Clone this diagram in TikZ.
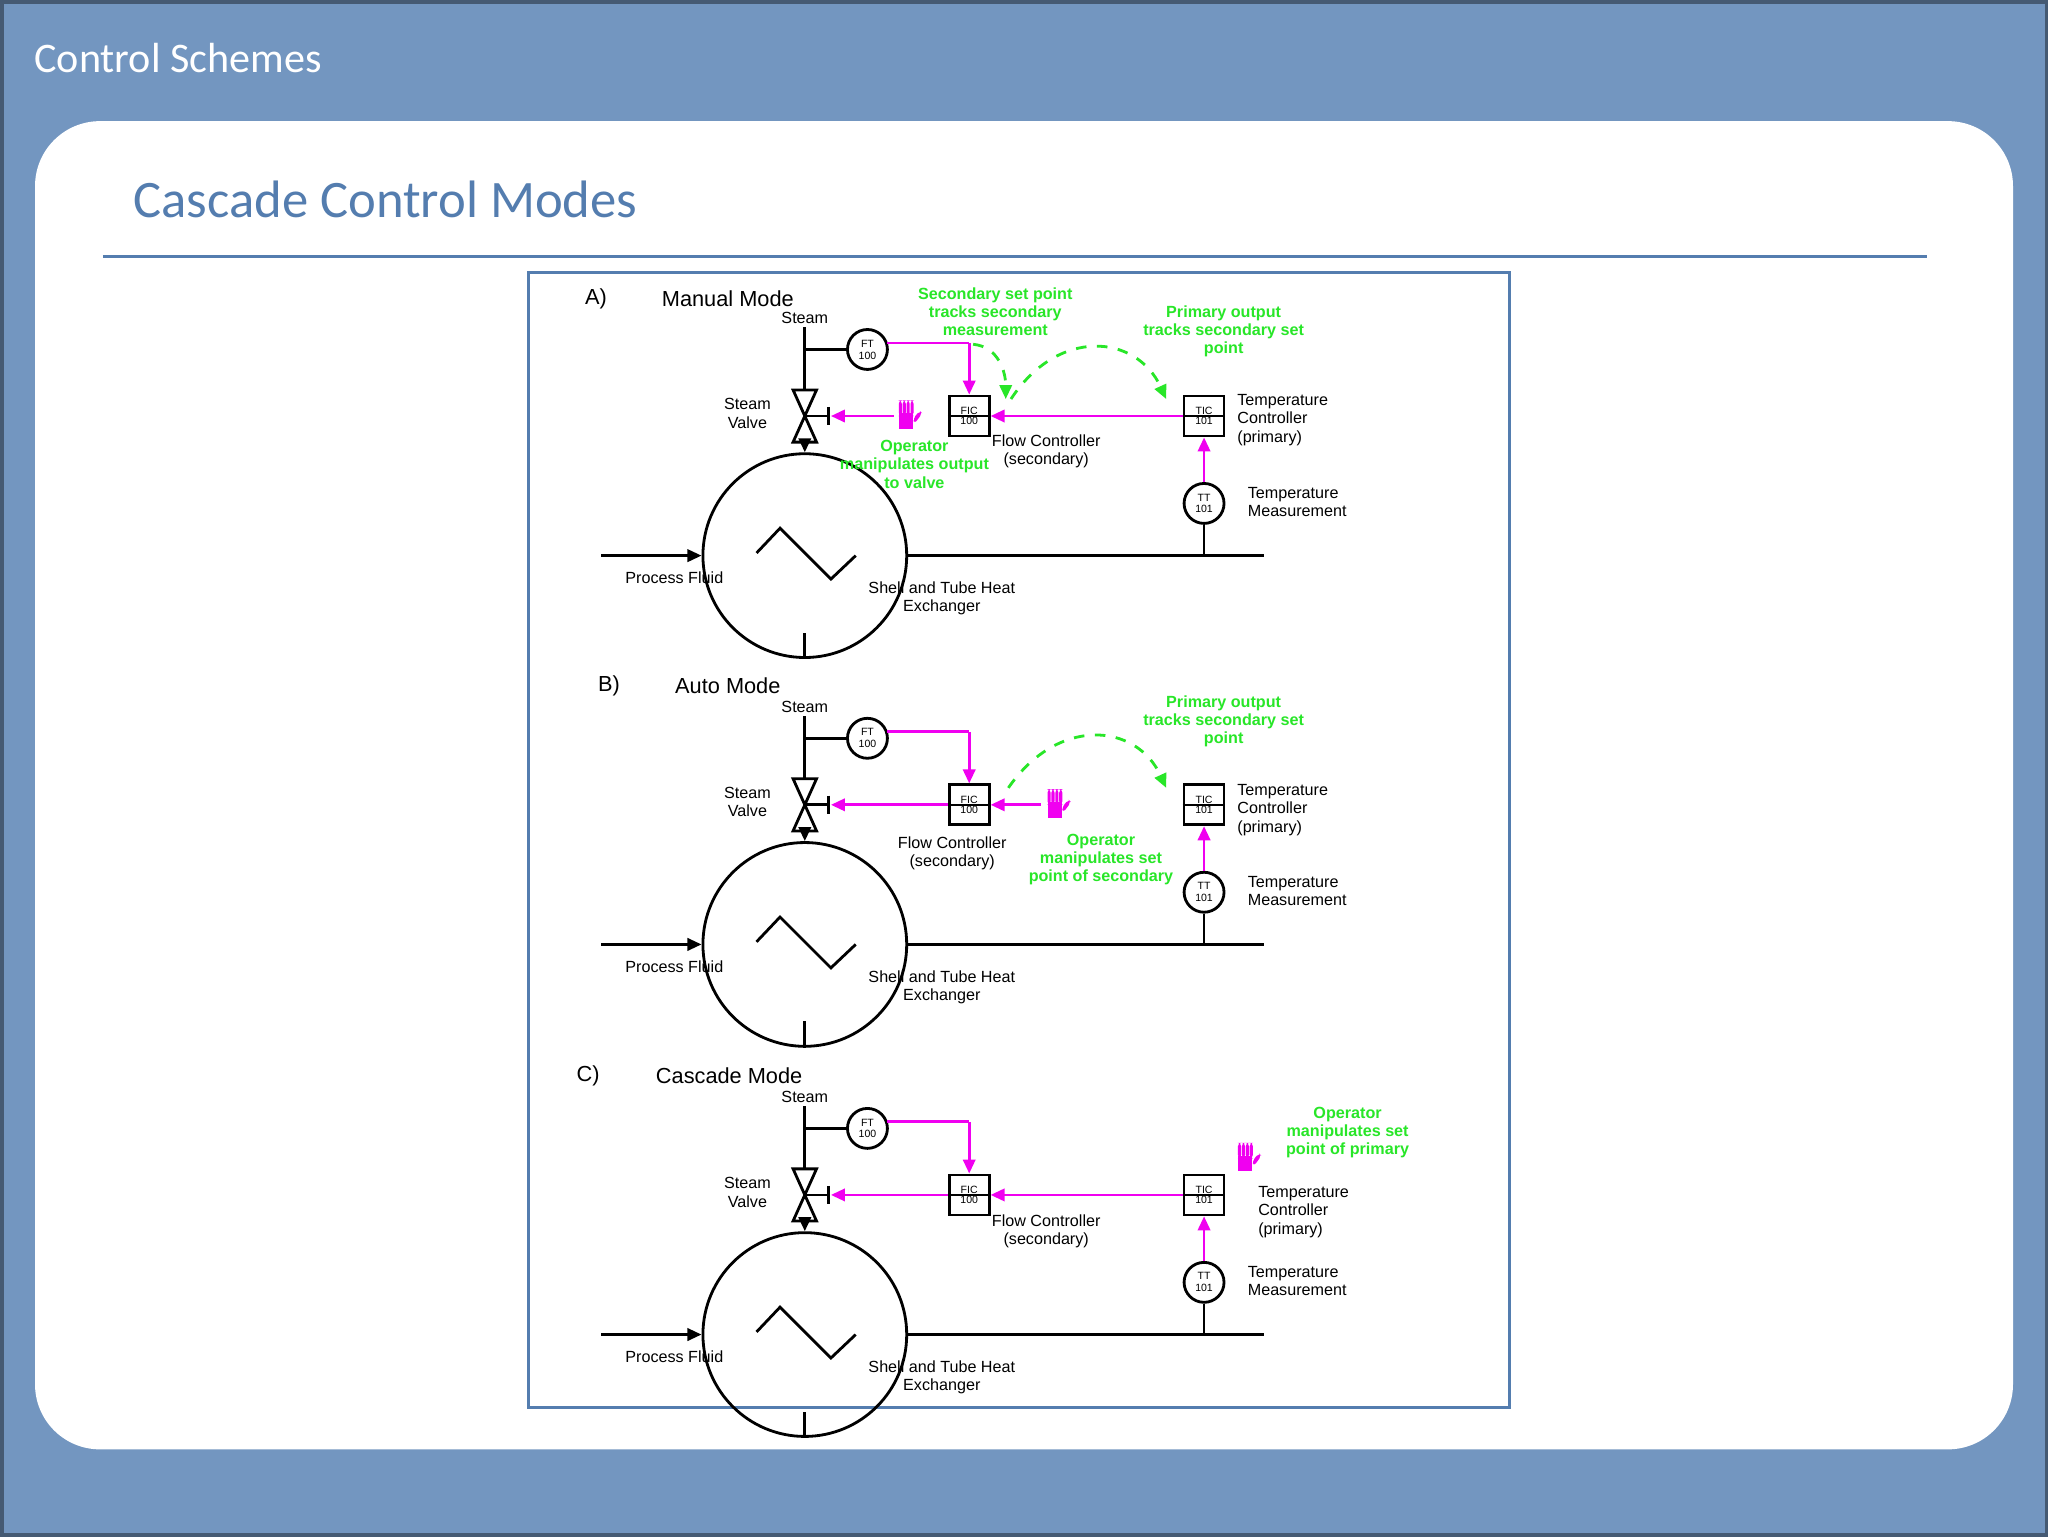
\documentclass[tikz,border=0pt]{standalone}
\usepackage{fontspec}
\setmainfont{Liberation Sans}
\newfontfamily\carlitofont{Carlito}
\usetikzlibrary{arrows.meta,calc}
\definecolor{bgblue}{RGB}{115,150,192}
\definecolor{titleblue}{RGB}{84,125,175}
\definecolor{mag}{RGB}{240,0,240}
\definecolor{grn}{RGB}{40,230,40}
\tikzset{
 lbl/.style={font=\fontsize{4.6}{5.2}\selectfont, align=center, inner sep=0},
 glbl/.style={lbl, text=grn, font=\fontsize{4.6}{5.2}\selectfont\bfseries},
 inst/.style={circle, draw, thick, minimum size=0.40cm, inner sep=0, font=\fontsize{3}{3.4}\selectfont, align=center},
 ctl/.style={draw, thick, minimum size=0.40cm, inner sep=0, font=\fontsize{3}{3.4}\selectfont, align=center},
 pipe/.style={thick, black},
 sig/.style={mag, thick, -{Triangle[length=4pt,width=3.5pt]}},
 gd/.style={grn, thick, dashed, -{Triangle[length=4pt,width=3.5pt]}},
}
\newcommand\hand[1]{%
 \fill[mag] ($(#1)+(-6,-2)$) rectangle ($(#1)+(5,10)$);
 \foreach \dx in {-6,-3,0,3}{\fill[mag,rounded corners=1pt] ($(#1)+(\dx,-12)$) rectangle ($(#1)+(\dx+2.4,0)$);}
 \fill[mag,rounded corners=1pt] ($(#1)+(5,2)$) -- ($(#1)+(10,-4)$) -- ($(#1)+(12,-2)$) -- ($(#1)+(6,6)$) -- cycle;}
\newcommand\hxpanel[2]{%
 \begin{scope}[shift={(0,#1)}]
 \coordinate (st#2) at (616,250);
 \node[lbl] at (616,243) {Steam};
 \node[inst] (ft#2) at (664,267) {FT\\100};
 \draw[pipe] (616,267) -- (ft#2.west);
 \draw[thick,fill=white] (607,298) -- (625,298) -- (607,338) -- (625,338) -- cycle;
 \coordinate (vc#2) at (616,318);
 \draw[pipe] (vc#2) -- (634,318); \draw[pipe] (634,311) -- (634,325);
 \coordinate (va#2) at (636,318);
 \draw[pipe] (st#2) -- (616,298);
 \node[lbl] at (572,316) {Steam\\Valve};
 \node[circle,draw,thick,minimum size=2.04cm,inner sep=0] (hx#2) at (616,425) {};
 \draw[thick] (579,423) -- (597,404) -- (636,443) -- (655,425);
 \draw[pipe,-{Triangle[length=4pt,width=3.5pt]}] (616,338) -- (hx#2.north);
 \draw[pipe,-{Triangle[length=4pt,width=3.5pt]}] (460,425) -- (hx#2.west);
 \draw[pipe] (hx#2.east) -- (968,425);
 \draw[pipe] (hx#2.south) -- (616,484);
 \node[lbl] at (516,442) {Process Fluid};
 \node[lbl] at (721,458) {Shell and Tube Heat\\Exchanger};
 \node[ctl] (fic#2) at (742,318) {FIC\\[-0.5pt]100};
 \draw[thin] (fic#2.west) -- (fic#2.east);
 \node[ctl] (tic#2) at (922,318) {TIC\\[-0.5pt]101};
 \draw[thin] (tic#2.west) -- (tic#2.east);
 \node[inst] (tt#2) at (922,385) {TT\\101};
 \draw[pipe] (tt#2.south) -- (922,425);
 \draw[sig] (tt#2.north) -- (tic#2.south);
 \draw[mag,thick] (679,262) -- (742,262);
 \draw[sig] (742,262) -- (fic#2.north);
 \node[lbl,anchor=west,align=left] at (955,384) {Temperature\\Measurement};
 \end{scope}}
\begin{document}
\begin{tikzpicture}[x=0.01306cm,y=-0.01306cm]
\fill[bgblue] (0,0) rectangle (1568,1176);
\draw[bgblue!60!black,line width=1pt] (0.5,0.5) rectangle (1567.5,1175.5);
\node[anchor=west,text=white,font=\carlitofont\fontsize{12}{14}\selectfont] (t1) at (16,44) {Control Schemes};
\fill[white,rounded corners=0.65cm] (26,92) rectangle (1542,1110);
\node[anchor=west,text=titleblue,font=\carlitofont\fontsize{15}{17}\selectfont] (t2) at (92,152) {Cascade Control Modes};
\draw[titleblue,thick] (78,196) -- (1476,196);
\draw[titleblue,thick] (404,208) rectangle (1156,1078);
% ---- A
\hxpanel{0}{a}
\node[lbl,font=\fontsize{6.2}{7}\selectfont] at (456,228) {A)};
\node[lbl,font=\fontsize{6.2}{7}\selectfont] at (557,228) {Manual Mode};
\draw[sig] (tica.west) -- (fica.east);
\coordinate (ha) at (694,318);
\hand{ha}
\draw[sig] (684,318) -- (vaa);
\node[glbl] at (762,238) {Secondary set point\\tracks secondary\\measurement};
\node[glbl] at (937,253) {Primary output\\tracks secondary set\\point};
\node[glbl] at (700,355) {Operator\\manipulates output\\to valve};
\node[lbl] at (801,345) {Flow Controller\\(secondary)};
\node[lbl,anchor=west,align=left] at (947,321) {Temperature\\Controller\\(primary)};
\draw[gd] (745,263) .. controls (765,265) and (770,285) .. (770,305);
\draw[gd] (774,305) .. controls (810,250) and (870,255) .. (893,305);
% ---- B
\hxpanel{298}{b}
\node[lbl,font=\fontsize{6.2}{7}\selectfont] at (466,525) {B)};
\node[lbl,font=\fontsize{6.2}{7}\selectfont] at (557,525) {Auto Mode};
\draw[sig] (ficb.west) -- (vab);
\coordinate (hb) at (808,616);
\hand{hb}
\draw[sig] (797,616) -- (ficb.east);
\node[glbl] at (937,552) {Primary output\\tracks secondary set\\point};
\node[glbl] at (843,658) {Operator\\manipulates set\\point of secondary};
\node[lbl] at (729,653) {Flow Controller\\(secondary)};
\node[lbl,anchor=west,align=left] at (947,620) {Temperature\\Controller\\(primary)};
\draw[gd] (772,603) .. controls (810,548) and (870,553) .. (893,603);
% ---- C
\hxpanel{597}{c}
\node[lbl,font=\fontsize{6.2}{7}\selectfont] at (450,824) {C)};
\node[lbl,font=\fontsize{6.2}{7}\selectfont] at (558,824) {Cascade Mode};
\draw[sig] (ticc.west) -- (ficc.east);
\draw[sig] (ficc.west) -- (vac);
\coordinate (hc) at (954,887);
\hand{hc}
\node[glbl] at (1032,867) {Operator\\manipulates set\\point of primary};
\node[lbl] at (801,943) {Flow Controller\\(secondary)};
\node[lbl,anchor=west,align=left] at (963,928) {Temperature\\Controller\\(primary)};
\end{tikzpicture}
\end{document}
